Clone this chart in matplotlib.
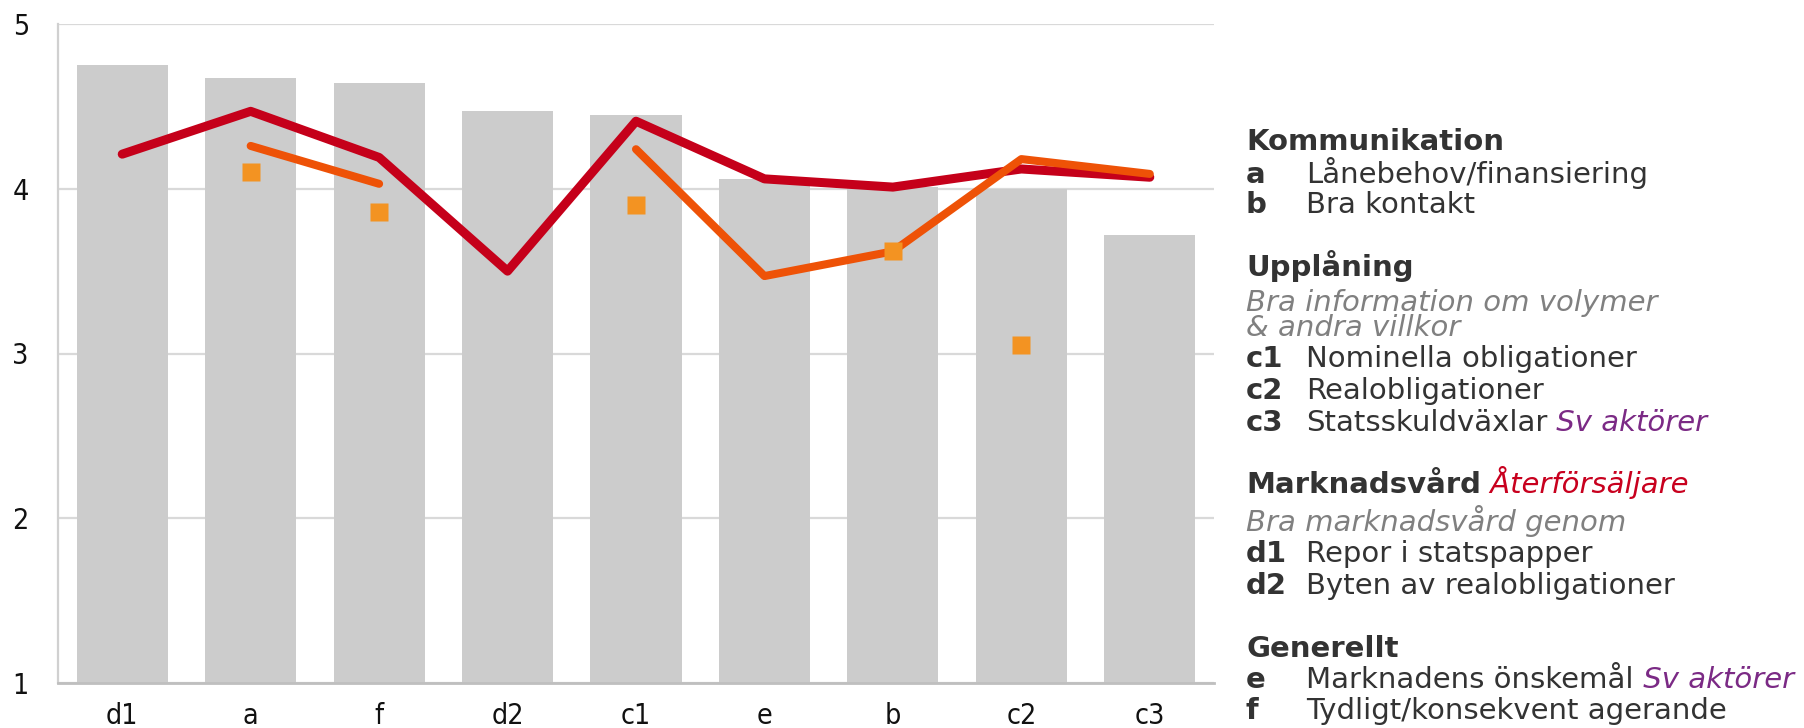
import numpy as np
import matplotlib.pyplot as plt

# survey scores per question, order as on the x axis
categories = ["d1", "a", "f", "d2", "c1", "e", "b", "c2", "c3"]
bar_values = [4.75, 4.67, 4.64, 4.47, 4.45, 4.06, 4.01, 4.00, 3.72]
dealer_values = [4.21, 4.47, 4.19, 3.50, 4.41, 4.06, 4.01, 4.12, 4.07]
investor_values = [np.nan, 4.26, 4.03, np.nan, 4.24, 3.47, 3.62, 4.18, 4.09]
marker_values = [np.nan, 4.10, 3.86, np.nan, 3.90, np.nan, 3.62, 3.05, np.nan]
y_ticks = [1, 2, 3, 4, 5]

# legend text on the right: (kind, key, text, extra, extra colour)
legend_rows = [
    ("head", "", "Kommunikation", "", None),
    ("item", "a", "Lånebehov/finansiering", "", None),
    ("item", "b", "Bra kontakt", "", None),
    ("head", "", "Upplåning", "", None),
    ("note", "", "Bra information om volymer", "", None),
    ("note", "", "& andra villkor", "", None),
    ("item", "c1", "Nominella obligationer", "", None),
    ("item", "c2", "Realobligationer", "", None),
    ("item", "c3", "Statsskuldväxlar", "Sv aktörer", "#7B2A85"),
    ("head", "", "Marknadsvård", "Återförsäljare", "#C8001E"),
    ("note", "", "Bra marknadsvård genom", "", None),
    ("item", "d1", "Repor i statspapper", "", None),
    ("item", "d2", "Byten av realobligationer", "", None),
    ("head", "", "Generellt", "", None),
    ("item", "e", "Marknadens önskemål", "Sv aktörer", "#7B2A85"),
    ("item", "f", "Tydligt/konsekvent agerande", "", None),
]
# baselines of the legend rows in pixels from the top
row_baselines = [150, 183, 213, 276, 311, 336, 367, 399, 431, 493, 531, 562, 594, 657, 688, 719]

W, H = 1804, 728
fig = plt.figure(figsize=(W / 100, H / 100), dpi=100)
ax = fig.add_axes([58 / W, 1 - 683 / H, (1214 - 58) / W, (683 - 24) / H])

x = np.arange(len(categories))
ax.bar(x, bar_values, width=0.71, color="#CCCCCC", zorder=2)
ax.plot(x, dealer_values, color="#C5001A", lw=6.5, solid_capstyle="round",
        solid_joinstyle="round", zorder=3)
ax.plot(x, investor_values, color="#EE5207", lw=5.8, solid_capstyle="round",
        solid_joinstyle="round", zorder=4)
ax.plot(x, marker_values, ls="none", marker="s", ms=13, color="#F39322",
        mec="none", zorder=5)

ax.set_xlim(-0.5, len(categories) - 0.5)
ax.set_ylim(1, 5)
ax.set_yticks(y_ticks)
ax.set_xticks(x)
ax.set_xticklabels(categories)
ax.yaxis.grid(True, color="#D9D9D9", lw=1.6)
ax.set_axisbelow(True)
for s in ["top", "right"]:
    ax.spines[s].set_visible(False)
ax.spines["left"].set_color("#D0D0D0")
ax.spines["left"].set_linewidth(1.6)
ax.spines["bottom"].set_color("#BFBFBF")
ax.spines["bottom"].set_linewidth(2)
ax.spines["bottom"].set_zorder(6)
ax.tick_params(length=0, labelsize=20.5, colors="#111111")
ax.tick_params(axis="y", pad=21)
ax.tick_params(axis="x", pad=14)
for lab in ax.get_xticklabels() + ax.get_yticklabels():
    lab.set_fontstretch("condensed")

# legend block
renderer = fig.canvas.get_renderer()
x_key = 1246 / W
x_desc = 1306 / W
fs = 21


def add_after(t, s, color):
    bb = t.get_window_extent(renderer)
    x1 = fig.transFigure.inverted().transform((bb.x1, bb.y0))[0]
    return fig.text(x1, t.get_position()[1], " " + s, fontsize=fs, style="italic",
                    color=color, va="baseline")


for (kind, key, text, extra, ecol), yb in zip(legend_rows, row_baselines):
    yf = 1 - yb / H
    if kind == "head":
        t = fig.text(x_key, yf, text, fontsize=fs, weight="bold", color="#333333",
                     va="baseline")
    elif kind == "note":
        t = fig.text(x_key, yf, text, fontsize=fs, style="italic", color="#808080",
                     va="baseline")
    else:
        fig.text(x_key, yf, key, fontsize=fs, weight="bold", color="#333333",
                 va="baseline")
        t = fig.text(x_desc, yf, text, fontsize=fs, color="#333333", va="baseline")
    if extra:
        add_after(t, extra, ecol)

fig.savefig("out.png", dpi=100)
